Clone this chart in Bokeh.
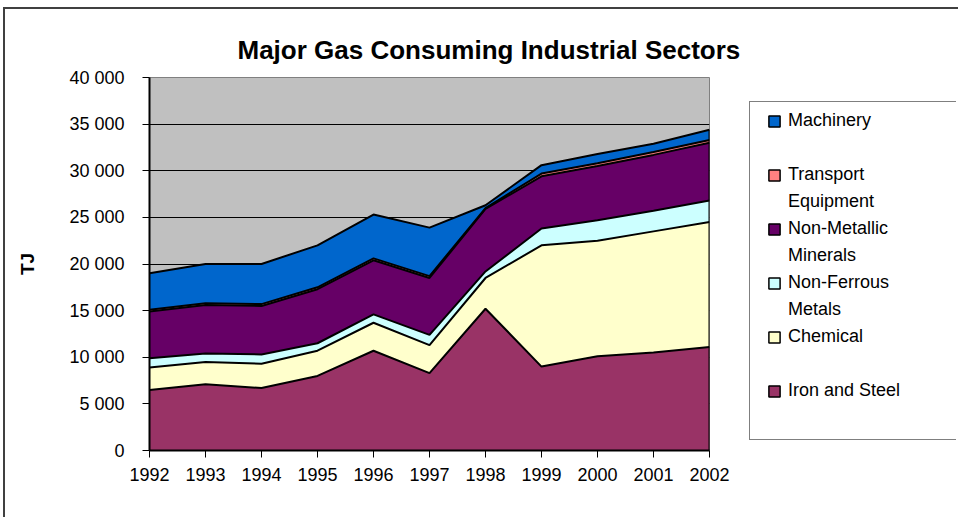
from bokeh.plotting import figure
from bokeh.layouts import row
from bokeh.models import ColumnDataSource, Range1d, FixedTicker, Legend, LegendItem, Title
from bokeh.transform import stack
from bokeh.embed import file_html
from bokeh.resources import INLINE

# ---------------- data (TJ) ----------------
years = [1992, 1993, 1994, 1995, 1996, 1997, 1998, 1999, 2000, 2001, 2002]
iron_and_steel = [6500, 7100, 6700, 8000, 10700, 8300, 15200, 9000, 10100, 10500, 11100]
chemical = [2400, 2400, 2600, 2700, 3000, 3000, 3300, 13000, 12400, 13000, 13400]
non_ferrous_metals = [1000, 900, 1000, 800, 900, 1100, 700, 1800, 2200, 2200, 2300]
non_metallic_minerals = [5000, 5200, 5200, 5800, 5800, 6100, 6700, 5600, 5800, 6000, 6200]
transport_equipment = [200, 200, 200, 200, 200, 200, 100, 300, 300, 300, 300]
machinery = [3900, 4200, 4300, 4500, 4700, 5200, 300, 900, 1000, 900, 1100]

series_keys = ["iron", "chem", "nferr", "nmet", "trans", "mach"]
series_colors = ["#993366", "#FFFFCC", "#CCFFFF", "#660066", "#FF8080", "#0066CC"]

y_tick_values = [0, 5000, 10000, 15000, 20000, 25000, 30000, 35000, 40000]
y_tick_labels = ["0", "5 000", "10 000", "15 000", "20 000", "25 000", "30 000", "35 000", "40 000"]
x_tick_labels = ["1992", "1993", "1994", "1995", "1996", "1997", "1998", "1999", "2000", "2001", "2002"]

title_text = "Major Gas Consuming Industrial Sectors"
y_axis_title = "TJ"
# legend entries, top to bottom, each as its displayed lines; index into series
legend_entries = [
    (["Machinery"], 5),
    (["Transport", "Equipment"], 4),
    (["Non-Metallic", "Minerals"], 3),
    (["Non-Ferrous", "Metals"], 2),
    (["Chemical"], 1),
    (["Iron and Steel"], 0),
]

FONT = "Liberation Sans"
NAN = float("nan")

source = ColumnDataSource(dict(
    year=years, iron=iron_and_steel, chem=chemical, nferr=non_ferrous_metals,
    nmet=non_metallic_minerals, trans=transport_equipment, mach=machinery))

# ---------------- main chart ----------------
p = figure(width=741, height=508, title=None,
           x_range=Range1d(years[0], years[-1]), y_range=Range1d(0, 40000),
           output_backend="svg", toolbar_location=None,
           min_border_left=144, min_border_right=37, min_border_top=68, min_border_bottom=67)
p.background_fill_color = "#C0C0C0"
p.border_fill_color = "white"
p.outline_line_color = "#808080"
p.outline_line_width = 1

p.title = Title(text=title_text, align="left", offset=88, standoff=25,
                text_font=FONT, text_font_size="26px", text_font_style="bold",
                text_color="black")

# grid
p.xgrid.visible = False
p.ygrid.ticker = FixedTicker(ticks=y_tick_values[1:-1])
p.ygrid.grid_line_color = "black"
p.ygrid.grid_line_width = 1

# areas and their outlines
p.varea_stack(series_keys, x="year", color=series_colors, source=source)
for i in range(len(series_keys)):
    p.line(x="year", y=stack(*series_keys[:i + 1]), color="black", line_width=2, source=source)
total_last = sum(s[-1] for s in [iron_and_steel, chemical, non_ferrous_metals,
                                 non_metallic_minerals, transport_equipment, machinery])
p.segment(x0=[years[-1]], y0=[0], x1=[years[-1]], y1=[total_last], color="black", line_width=2)

# axes
p.yaxis.ticker = FixedTicker(ticks=y_tick_values)
p.yaxis.major_label_overrides = {v: t for v, t in zip(y_tick_values, y_tick_labels)}
p.xaxis.ticker = FixedTicker(ticks=years)
p.xaxis.major_label_overrides = {v: t for v, t in zip(years, x_tick_labels)}
for ax in (p.xaxis[0], p.yaxis[0]):
    ax.axis_line_color = "black"
    ax.axis_line_width = 2
    ax.major_tick_line_color = "black"
    ax.major_tick_line_width = 1
    ax.major_tick_out = 7
    ax.major_tick_in = 0
    ax.minor_tick_line_color = None
    ax.major_label_text_font = FONT
    ax.major_label_text_font_size = "18px"
    ax.major_label_text_color = "black"
p.yaxis.major_label_standoff = 18
p.xaxis.major_label_standoff = 10
p.yaxis.axis_label = y_axis_title
p.yaxis.axis_label_text_font = FONT
p.yaxis.axis_label_text_font_size = "19px"
p.yaxis.axis_label_text_font_style = "bold"
p.yaxis.axis_label_text_color = "black"
p.yaxis.axis_label_standoff = 28

# ---------------- legend panel ----------------
lg = figure(width=212, height=508, title=None, x_range=Range1d(0, 1), y_range=Range1d(0, 1),
            x_axis_type=None, y_axis_type=None, output_backend="svg", toolbar_location=None,
            min_border_left=2, min_border_right=2, min_border_top=68, min_border_bottom=67)
lg.grid.visible = False
lg.background_fill_color = "white"
lg.border_fill_color = "white"
lg.outline_line_color = None

# legend frame box
box_proxy = lg.quad(left=[], right=[], top=[], bottom=[], fill_alpha=0, line_alpha=0)
box_legend = Legend(items=[LegendItem(label=" ", renderers=[box_proxy])],
                    location=(0.5, 10.5), padding=0, spacing=0, margin=0,
                    glyph_width=1, glyph_height=1, label_standoff=0,
                    label_width=206, label_height=337, label_text_font_size="2px",
                    border_line_color="black", border_line_width=1,
                    background_fill_color="white", background_fill_alpha=1)
lg.add_layout(box_legend)

items = []
blank = lg.quad(left=[], right=[], top=[], bottom=[], fill_alpha=0, line_alpha=0)
for k, (lines, idx) in enumerate(legend_entries):
    sw = lg.quad(left=[NAN], right=[NAN], top=[NAN], bottom=[NAN], fill_color=series_colors[idx],
                 line_color="black", line_width=1.5)
    items.append(LegendItem(label=lines[0], renderers=[sw]))
    for extra in lines[1:]:
        items.append(LegendItem(label=extra, renderers=[blank]))
    if len(lines) == 1 and k < len(legend_entries) - 1:
        items.append(LegendItem(label=" ", renderers=[blank]))

legend = Legend(items=items, location=(19, 46), padding=0, spacing=0, margin=0,
                glyph_width=14, glyph_height=14, label_standoff=7,
                label_height=27, label_text_font=FONT, label_text_font_size="18px",
                label_text_color="black", label_text_baseline="middle",
                border_line_alpha=0, background_fill_alpha=0)
lg.add_layout(legend)

layout = row(p, lg, spacing=0,
             styles={"border-left": "2px solid #404040", "border-top": "2px solid #404040",
                     "margin-left": "3px", "margin-top": "7px"})

open("out.html", "w").write(file_html(layout, INLINE))
